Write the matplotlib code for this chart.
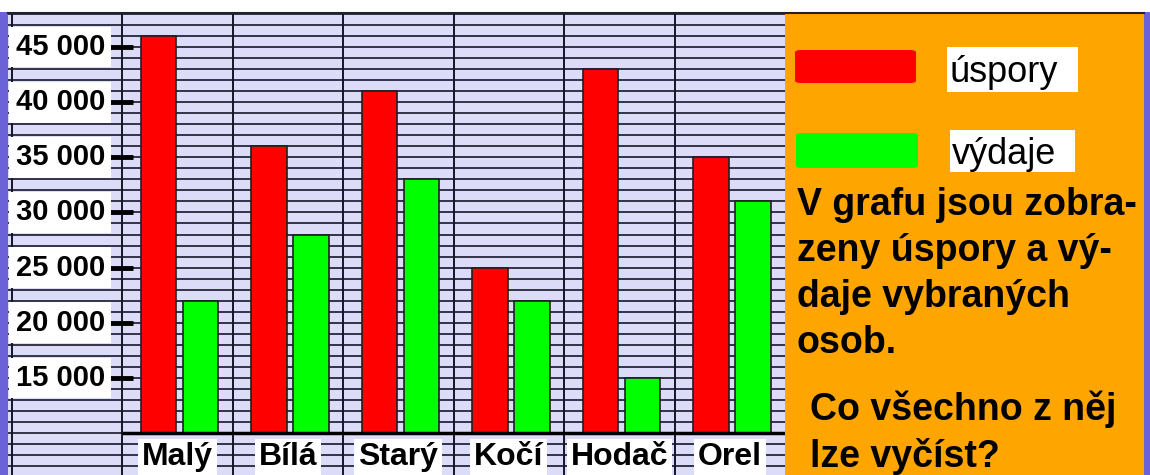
import matplotlib.pyplot as plt
from matplotlib.patches import Rectangle, FancyBboxPatch
from matplotlib.lines import Line2D

# data
names = ['Malý', 'Bílá', 'Starý', 'Kočí', 'Hodač', 'Orel']
uspory = [46000, 36000, 41000, 25000, 43000, 35000]
vydaje = [22000, 28000, 33000, 22000, 15000, 31000]
yticks = [15000, 20000, 25000, 30000, 35000, 40000, 45000]
ytick_labels = ['15 000', '20 000', '25 000', '30 000', '35 000', '40 000', '45 000']
base = 10000

W, H = 1150, 475
fig = plt.figure(figsize=(W / 100, H / 100), dpi=100)
fig.patch.set_facecolor('white')

def px(x, y):
    # pixel coords from top-left -> figure fraction
    return x / W, 1 - y / H

# chart area
l, t = px(8, 12)
r, _ = px(785, 12)
ax = fig.add_axes([l, 0, r - l, t])
ax.set_xlim(-1.032, 6.0)
ax.set_ylim(6200, 48170)
ax.axis('off')
ax.add_patch(Rectangle((0, 0), 1, 1, transform=ax.transAxes, fc='#dcdcf8', ec='none', zorder=0))

# grid
for v in range(7000, 49000, 1000):
    ax.axhline(v, color='#15152a', lw=1.2, zorder=1)
for k in range(-1, 6):
    ax.axvline(k, color='#15152a', lw=1.4, zorder=1)
ax.hlines(base, 0, 6, color='black', lw=2.5, zorder=3)

# bars
w = 0.32
for i in range(len(names)):
    ax.bar(i + 0.33, uspory[i] - base, w, bottom=base, color='#ff0000',
           edgecolor='#202020', lw=1.2, zorder=2)
    ax.bar(i + 0.71, vydaje[i] - base, w, bottom=base, color='#00ff00',
           edgecolor='#202020', lw=1.2, zorder=2)

# y ticks & labels
ax.hlines(yticks, -0.13, 0.10, color='black', lw=3.5, zorder=4)
for v, s in zip(yticks, ytick_labels):
    ax.text(-0.155, v, s, ha='right', va='center', fontsize=21, fontweight='bold',
            family='Liberation Sans', zorder=5,
            bbox=dict(boxstyle='square,pad=0.22', fc='white', ec='none'))

# category labels
for i, n in enumerate(names):
    ax.text(i + 0.5, 7800, n, ha='center', va='center', fontsize=23, fontweight='bold',
            family='Liberation Sans', zorder=5,
            bbox=dict(boxstyle='square,pad=0.12', fc='white', ec='none'))

# orange panel and borders
x0, y0 = px(785, 475)
x1, y1 = px(1144, 12)
fig.patches.append(Rectangle((x0, y0), x1 - x0, y1 - y0, transform=fig.transFigure,
                             fc='#ffa500', ec='none', zorder=1))
a, b = px(0, 475)
c, d = px(8, 12)
fig.patches.append(Rectangle((a, b), c - a, d - b, transform=fig.transFigure,
                             fc='#6a62d6', ec='none', zorder=1))
a, b = px(1144, 475)
c, d = px(1150, 12)
fig.patches.append(Rectangle((a, b), c - a, d - b, transform=fig.transFigure,
                             fc='#6a62d6', ec='none', zorder=1))
fig.lines.append(Line2D([8 / W, 1144 / W], [1 - 12.5 / H] * 2, transform=fig.transFigure,
                        color='#202030', lw=1.5, zorder=2))

# legend
for (xa, ya, xb, yb), col in [((795, 50, 916, 83), '#ff0000'), ((796, 133, 918, 168), '#00ff00')]:
    p0 = px(xa, yb)
    p1 = px(xb, ya)
    fig.patches.append(FancyBboxPatch(p0, p1[0] - p0[0], p1[1] - p0[1],
                                      boxstyle='round,pad=0,rounding_size=0.005',
                                      transform=fig.transFigure, fc=col, ec='none', zorder=2))
for (xa, ya, xb, yb), lab in [((947, 47, 1078, 92), 'úspory'), ((950, 130, 1075, 172), 'výdaje')]:
    p0 = px(xa, yb)
    p1 = px(xb, ya)
    fig.patches.append(Rectangle(p0, p1[0] - p0[0], p1[1] - p0[1], transform=fig.transFigure,
                                 fc='white', ec='none', zorder=2))
    tx, ty = px(xa + 2, (ya + yb) / 2 + 3)
    fig.text(tx, ty, lab, ha='left', va='center', fontsize=26, family='Liberation Sans', zorder=3)

# description text
lines1 = ['V grafu jsou zobra-', 'zeny úspory a vý-', 'daje vybraných', 'osob.']
for k, s in enumerate(lines1):
    tx, ty = px(797, 215 + 46 * k)
    fig.text(tx, ty, s, ha='left', va='baseline', fontsize=27, fontweight='bold',
             family='Liberation Sans', zorder=3)
lines2 = ['Co všechno z něj', 'lze vyčíst?']
for k, s in enumerate(lines2):
    tx, ty = px(810, 420 + 47 * k)
    fig.text(tx, ty, s, ha='left', va='baseline', fontsize=27, fontweight='bold',
             family='Liberation Sans', zorder=3)

plt.savefig('out.png', dpi=100)
plt.close()
